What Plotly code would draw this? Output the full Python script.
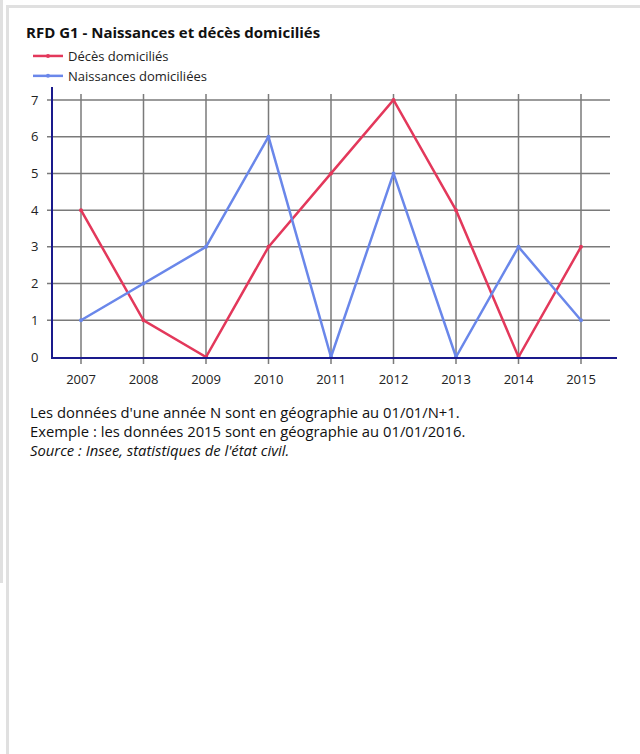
import plotly.graph_objects as go

years = [2007, 2008, 2009, 2010, 2011, 2012, 2013, 2014, 2015]
deces = [4, 1, 0, 3, 5, 7, 4, 0, 3]
naissances = [1, 2, 3, 6, 0, 5, 0, 3, 1]
yticks = [0, 1, 2, 3, 4, 5, 6, 7]

W, H = 640, 754
L, R, T, B = 53, 617, 87, 357
pw, ph = R - L, B - T

def px(x):
    return (x - L) / pw

def py(y):
    return (B - y) / ph

RED = "#e3385b"
BLUE = "#6a87ea"
GRID = "#7a7a7a"
AXIS = "#1a1a8c"
FRAME = "#e0e0e0"
FONT = "Open Sans"

fig = go.Figure()
fig.add_trace(go.Scatter(x=years, y=deces, mode="lines+markers", name="Décès domiciliés",
                         line=dict(color=RED, width=2.5), marker=dict(size=4, color=RED)))
fig.add_trace(go.Scatter(x=years, y=naissances, mode="lines+markers", name="Naissances domiciliées",
                         line=dict(color=BLUE, width=2.5), marker=dict(size=4, color=BLUE)))

unit = 62.5
xr = [years[0] - (81 - L) / unit, years[0] + (R - 81) / unit]
ppu = (357 - 100) / 7
yr = [0, ph / ppu]

shapes = []
# frame
shapes.append(dict(type="rect", xref="paper", yref="paper", x0=px(6), x1=px(640), y0=py(8), y1=py(5),
                   fillcolor=FRAME, line=dict(width=0), layer="below"))
shapes.append(dict(type="rect", xref="paper", yref="paper", x0=px(6), x1=px(9), y0=py(754), y1=py(5),
                   fillcolor=FRAME, line=dict(width=0), layer="below"))
shapes.append(dict(type="rect", xref="paper", yref="paper", x0=px(0), x1=px(3), y0=py(583), y1=py(0),
                   fillcolor=FRAME, line=dict(width=0), layer="below"))
# horizontal grid
for v in yticks:
    if v == 0:
        continue
    shapes.append(dict(type="line", xref="paper", yref="y", x0=px(47), x1=px(610), y0=v, y1=v,
                       line=dict(color=GRID, width=1.5), layer="below"))
# vertical grid
for yv in years:
    shapes.append(dict(type="line", xref="x", yref="paper", x0=yv, x1=yv, y0=py(364), y1=py(94),
                       line=dict(color=GRID, width=1.5), layer="below"))

annotations = [
    dict(text="<b>RFD G1 - Naissances et décès domiciliés</b>", xref="paper", yref="paper",
         x=px(24), y=py(32), xanchor="left", yanchor="middle", showarrow=False,
         font=dict(family=FONT, size=15, color="#111")),
    dict(text="Les données d'une année N sont en géographie au 01/01/N+1.<br>"
              "Exemple : les données 2015 sont en géographie au 01/01/2016.<br>"
              "<i>Source : Insee, statistiques de l'état civil.</i>",
         xref="paper", yref="paper", x=px(28), y=py(400), xanchor="left", yanchor="top",
         align="left", showarrow=False, font=dict(family=FONT, size=14.8, color="#111")),
]

fig.update_layout(
    width=W, height=H,
    margin=dict(l=L, r=W - R, t=T, b=H - B, pad=0),
    paper_bgcolor="white", plot_bgcolor="white",
    font=dict(family=FONT, size=13, color="#333"),
    showlegend=True,
    legend=dict(x=px(28), y=py(41), xanchor="left", yanchor="top", bgcolor="rgba(0,0,0,0)",
                font=dict(family=FONT, size=13, color="#222"), tracegroupgap=0),
    xaxis=dict(range=xr, tickmode="array", tickvals=years, ticktext=[str(y) for y in years],
               showgrid=False, zeroline=False, showline=True, linecolor=AXIS, linewidth=2,
               ticks="", ticklabelstandoff=9, tickfont=dict(size=13, color="#222")),
    yaxis=dict(range=yr, tickmode="array", tickvals=yticks, showgrid=False, zeroline=False,
               showline=True, linecolor=AXIS, linewidth=2, ticks="", ticklabelstandoff=10,
               tickfont=dict(size=13, color="#222")),
    shapes=shapes, annotations=annotations,
)

fig.write_html("out.html", config={"displayModeBar": False},
               post_script="document.body.style.margin='0';")
